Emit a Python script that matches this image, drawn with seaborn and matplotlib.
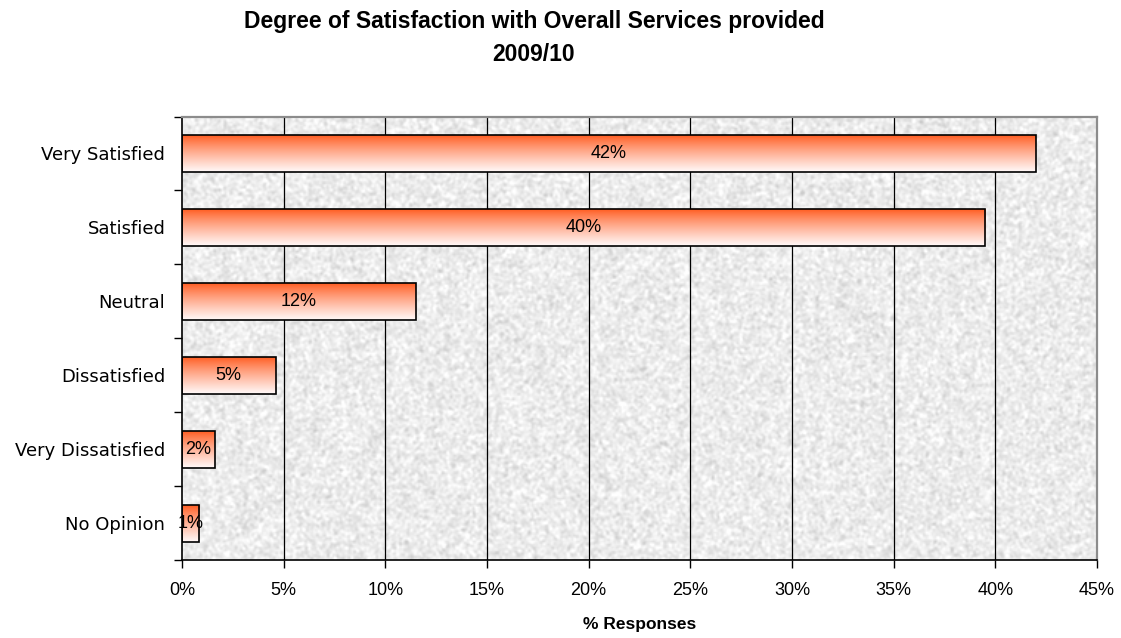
import numpy as np
import pandas as pd
import matplotlib
matplotlib.use("Agg")
import matplotlib.pyplot as plt
import seaborn as sns
from matplotlib.colors import to_rgb

# Survey results (% of responses)
categories = ["Very Satisfied", "Satisfied", "Neutral", "Dissatisfied",
              "Very Dissatisfied", "No Opinion"]
percent = [42.0, 39.5, 11.5, 4.6, 1.6, 0.84]
x_ticks = [0, 5, 10, 15, 20, 25, 30, 35, 40, 45]

title_text = "Degree of Satisfaction with Overall Services provided\n2009/10"
x_label = "% Responses"

sns.set_style("white")
plt.rcParams["font.family"] = ["Liberation Sans", "DejaVu Sans"]
for key in ["text.color", "axes.labelcolor", "xtick.color", "ytick.color"]:
    plt.rcParams[key] = "black"

df = pd.DataFrame({"category": categories, "percent": percent})

fig = plt.figure(figsize=(11.21, 6.38), dpi=100)
ax = fig.add_axes([182 / 1121, 1 - 560 / 638, (1097 - 182) / 1121, (560 - 116.5) / 638])

sns.barplot(data=df, x="percent", y="category", orient="h", ax=ax,
            width=0.5, color="white", edgecolor="black", linewidth=1.2,
            zorder=3)

n = len(categories)

# fine-grained stippled grey plot background
rng = np.random.default_rng(7)
noise = rng.normal(0.0, 1.0, (300, 620))
k = np.array([0.25, 0.5, 0.25])
noise = np.apply_along_axis(lambda r: np.convolve(r, k, mode="same"), 1, noise)
noise = np.apply_along_axis(lambda c: np.convolve(c, k, mode="same"), 0, noise)
tex = np.clip(0.925 + 0.035 * noise / noise.std(), 0.8, 1.0)
ax.imshow(tex, cmap="gray", vmin=0, vmax=1, aspect="auto",
          extent=(0, 45, n - 0.5, -0.5), zorder=0, interpolation="bilinear")

# vertical gridlines
for xv in x_ticks[1:-1]:
    ax.axvline(xv, color="black", lw=0.9, zorder=1)

# vertical colour gradient inside each bar: orange-red top to white bottom
top = np.array(to_rgb("#ff5a1e"))
bot = np.array(to_rgb("#fffafa"))
t = np.linspace(0, 1, 256)[:, None] ** 0.85
grad = (top[None, :] * (1 - t) + bot[None, :] * t)[:, None, :]
for patch, val in zip(ax.patches, percent):
    x0, y0 = patch.get_x(), patch.get_y()
    w, h = patch.get_width(), patch.get_height()
    im = ax.imshow(grad, aspect="auto", extent=(x0, x0 + w, y0 + h, y0),
                   origin="upper", zorder=2.5, interpolation="bilinear")
    im.set_clip_path(patch)
    patch.set_facecolor("none")
    ax.text(x0 + w / 2, y0 + h / 2, f"{val:.0f}%", ha="center", va="center",
            fontsize=13, color="black", zorder=4)

ax.set_xlim(0, 45)
ax.set_ylim(n - 0.5, -0.5)

ax.set_xticks(x_ticks)
ax.set_xticklabels([f"{v}%" for v in x_ticks], fontsize=13)
ax.set_yticks(range(n))
ax.set_yticklabels(categories, fontsize=13, family="DejaVu Sans")
ax.set_yticks(np.arange(-0.5, n, 1.0), minor=True)
ax.tick_params(axis="y", which="major", length=0, pad=12)
ax.tick_params(axis="y", which="minor", length=6, width=1, color="black",
               direction="out", left=True)
ax.tick_params(axis="x", which="major", length=6, width=1, color="black",
               direction="out", bottom=True, pad=10)

ax.set_xlabel(x_label, fontsize=12.5, fontweight="bold", labelpad=13)
ax.set_ylabel("")

for side in ["left", "bottom"]:
    ax.spines[side].set_color("black")
    ax.spines[side].set_linewidth(1.2)
for side in ["top", "right"]:
    ax.spines[side].set_visible(True)
    ax.spines[side].set_color("#8c8c8c")
    ax.spines[side].set_linewidth(1.6)

fig.text(534 / 1121, 1 - 38 / 638, title_text, ha="center", va="center",
         fontsize=16.5, fontweight="bold", linespacing=1.55)

fig.savefig("out.png", dpi=100, facecolor="white")
